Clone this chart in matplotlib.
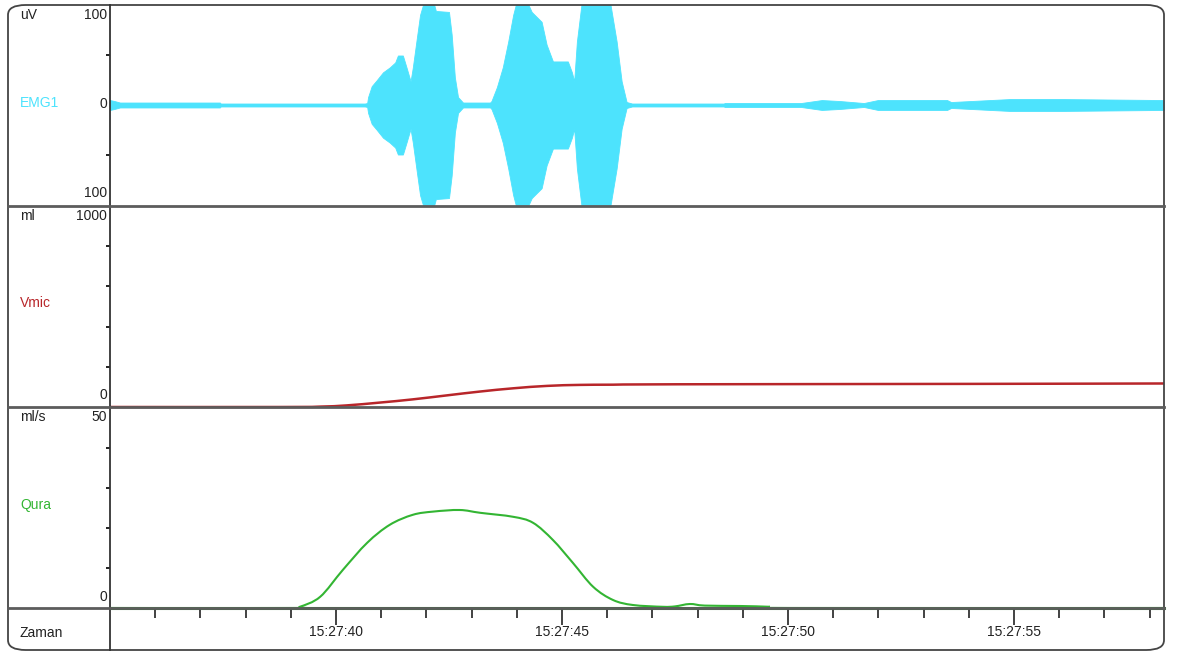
import numpy as np
import matplotlib
matplotlib.use("Agg")
import matplotlib.pyplot as plt
from matplotlib import font_manager
from matplotlib.lines import Line2D
from matplotlib.patches import FancyBboxPatch, PathPatch
from matplotlib.path import Path

# ------------------------------------------------------------
# Data (time in seconds after 15:27:00)
# ------------------------------------------------------------
t_start, t_end = 35.0, 58.32

# EMG1 envelope (uV, symmetric around 0)
emg_t = [35.00, 35.10, 35.22, 37.43, 37.45, 40.64, 40.69, 40.71, 40.79, 40.90,
         41.04, 41.19, 41.31, 41.37, 41.48, 41.56, 41.65, 41.70, 41.79, 41.86,
         41.95, 42.15, 42.21, 42.50, 42.56, 42.63, 42.70, 42.81, 43.41, 43.44,
         43.56, 43.69, 43.81, 43.92, 44.00, 44.22, 44.33, 44.55, 44.66, 44.80,
         45.13, 45.22, 45.27, 45.33, 45.44, 46.06, 46.21, 46.32, 46.43, 46.55,
         48.58, 48.60, 50.29, 50.75, 51.15, 51.68, 51.99, 53.52, 53.61, 54.91,
         55.69, 56.06, 58.32]
emg_amp = [5, 4, 2.5, 2.5, 1.5, 1.5, 2, 8, 19, 25,
           33, 38, 43, 50, 50, 38, 24, 38, 68, 91,
           105, 105, 95, 94, 71, 28, 8, 2.5, 2.5, 4,
           18, 38, 64, 91, 105, 105, 94, 84, 61, 44,
           44, 33, 24, 64, 105, 105, 64, 24, 3, 1.5,
           1.5, 2, 2, 5, 4, 2, 5, 5, 3, 6,
           6, 6, 5]

# Vmic (ml)
vmic_t = [35.00, 38.76, 39.65, 40.24, 40.97, 41.70, 42.46, 43.19, 43.92, 44.67,
          45.40, 46.13, 47.54, 54.10, 58.32]
vmic_v = [0, 0, 2, 8, 22, 38, 58, 77, 93, 105,
          110, 111, 113, 115, 117]

# Qura (ml/s)
qura_t = [35.00, 38.98, 39.20, 39.65, 40.15, 40.69, 41.19, 41.70, 42.15, 42.74,
          43.19, 43.92, 44.36, 44.80, 45.24, 45.69, 46.13, 46.57, 47.23, 47.50,
          47.83, 48.16, 48.94, 49.60, 50.04, 58.32]
qura_v = [0, 0, 0.3, 2.8, 9.5, 16.3, 20.8, 23.3, 24.1, 24.5,
          23.8, 22.8, 21.3, 17.0, 11.3, 5.3, 2.0, 0.75, 0.3, 0.4,
          1.0, 0.6, 0.5, 0.3, 0, 0]

major_ticks = [40, 45, 50, 55]
major_labels = ["15:27:40", "15:27:45", "15:27:50", "15:27:55"]

# ------------------------------------------------------------
W, H = 1179, 657
names = {f.name for f in font_manager.fontManager.ttflist}
if "Liberation Sans Narrow" in names:
    family, fs = "Liberation Sans Narrow", 12
else:
    family, fs = "Liberation Sans", 10
plt.rcParams["font.family"] = family

emg_col = "#4de3fd"
vmic_col = "#b8262a"
qura_col = "#33b533"


def fx(px):
    return px / W


def fy(py):
    return 1 - py / H


def smooth_path(xs, ys):
    # Catmull-Rom through the read points, drawn as cubic Bezier segments
    p = np.column_stack([xs, ys]).astype(float)
    verts = [p[0]]
    codes = [Path.MOVETO]
    n = len(p)
    for i in range(n - 1):
        p0 = p[max(i - 1, 0)]
        p1, p2 = p[i], p[i + 1]
        p3 = p[min(i + 2, n - 1)]
        c1 = p1 + (p2 - p0) / 6.0
        c2 = p2 - (p3 - p1) / 6.0
        verts += [c1, c2, p2]
        codes += [Path.CURVE4] * 3
    return Path(verts, codes)


fig = plt.figure(figsize=(W / 100, H / 100), dpi=100)

x0, x1 = 110, 1164
rows = [(5, 205), (206, 407), (408, 608)]
axes = []
for top, bot in rows:
    ax = fig.add_axes([fx(x0), fy(bot), fx(x1) - fx(x0), (bot - top) / H])
    ax.set_xlim(t_start, t_end)
    for s in ax.spines.values():
        s.set_visible(False)
    ax.set_xticks([])
    ax.tick_params(axis="y", direction="out", length=3, width=1.4, labelleft=False, color="#222")
    ax.patch.set_alpha(0)
    axes.append(ax)
ax_emg, ax_vmic, ax_qura = axes

# EMG
ax_emg.set_ylim(-101, 101)
ax_emg.set_yticks([-50, 50])
amp = np.array(emg_amp)
ax_emg.fill_between(emg_t, -amp, amp, color=emg_col, linewidth=0.6, edgecolor=emg_col)

# Vmic
ax_vmic.set_ylim(0, 1000)
ax_vmic.set_yticks([200, 400, 600, 800])
ax_vmic.add_patch(PathPatch(smooth_path(vmic_t, vmic_v), fill=False, ec=vmic_col,
                            lw=1.8, clip_on=False, zorder=5))

# Qura
ax_qura.set_ylim(0, 50)
ax_qura.set_yticks([10, 20, 30, 40])
ax_qura.plot([t_start, t_end], [0, 0], color="#1d8a1d", lw=2.2, clip_on=False, zorder=4)
ax_qura.add_patch(PathPatch(smooth_path(qura_t, qura_v), fill=False, ec=qura_col,
                            lw=1.5, clip_on=False, zorder=5))

# time axis
ax_t = fig.add_axes([fx(x0), fy(650), fx(x1) - fx(x0), 42 / H])
ax_t.set_xlim(t_start, t_end)
ax_t.set_ylim(0, 1)
for s in ax_t.spines.values():
    s.set_visible(False)
ax_t.set_yticks([])
ax_t.patch.set_alpha(0)
ax_t.xaxis.set_ticks_position("top")
ax_t.set_xticks(major_ticks)
ax_t.set_xticklabels([])
ax_t.set_xticks(np.arange(36, 59, 1), minor=True)
ax_t.tick_params(axis="x", which="major", direction="in", length=12, width=1.2, color="#222")
ax_t.tick_params(axis="x", which="minor", direction="in", length=7, width=1.2, color="#222")
for t, lab in zip(major_ticks, major_labels):
    ax_t.text(t, 0.42, lab, ha="center", va="center", fontsize=fs, color="#222")

# frame
frame = FancyBboxPatch((fx(8), fy(650)), fx(1164) - fx(8), fy(5) - fy(650),
                       boxstyle="round,pad=0,rounding_size=0.015",
                       transform=fig.transFigure, fill=False, ec="#444", lw=1.3)
fig.add_artist(frame)
for py in [205.5, 407, 608]:
    fig.add_artist(Line2D([fx(8), fx(1164)], [fy(py), fy(py)], color="#5c5c5c", lw=2.0, zorder=3))
fig.add_artist(Line2D([fx(110), fx(110)], [fy(5), fy(650)], color="#333", lw=1.3))

# labels
txt = dict(fontsize=fs, color="#222")
fig.text(fx(20), fy(15), "uV", ha="left", va="center", **txt)
fig.text(fx(107), fy(15), "100", ha="right", va="center", **txt)
fig.text(fx(107), fy(104), "0", ha="right", va="center", **txt)
fig.text(fx(107), fy(193), "100", ha="right", va="center", **txt)
fig.text(fx(20), fy(103), "EMG1", ha="left", va="center", fontsize=fs, color=emg_col)

fig.text(fx(20), fy(216), "ml", ha="left", va="center", **txt)
fig.text(fx(107), fy(216), "1000", ha="right", va="center", **txt)
fig.text(fx(107), fy(395), "0", ha="right", va="center", **txt)
fig.text(fx(20), fy(303), "Vmic", ha="left", va="center", fontsize=fs, color=vmic_col)

fig.text(fx(20), fy(417), "ml/s", ha="left", va="center", **txt)
fig.text(fx(107), fy(417), "50", ha="right", va="center", **txt)
fig.text(fx(107), fy(597), "0", ha="right", va="center", **txt)
fig.text(fx(20), fy(505), "Qura", ha="left", va="center", fontsize=fs, color=qura_col)

fig.text(fx(20), fy(633), "Zaman", ha="left", va="center", **txt)

fig.savefig("out.png", dpi=100)
